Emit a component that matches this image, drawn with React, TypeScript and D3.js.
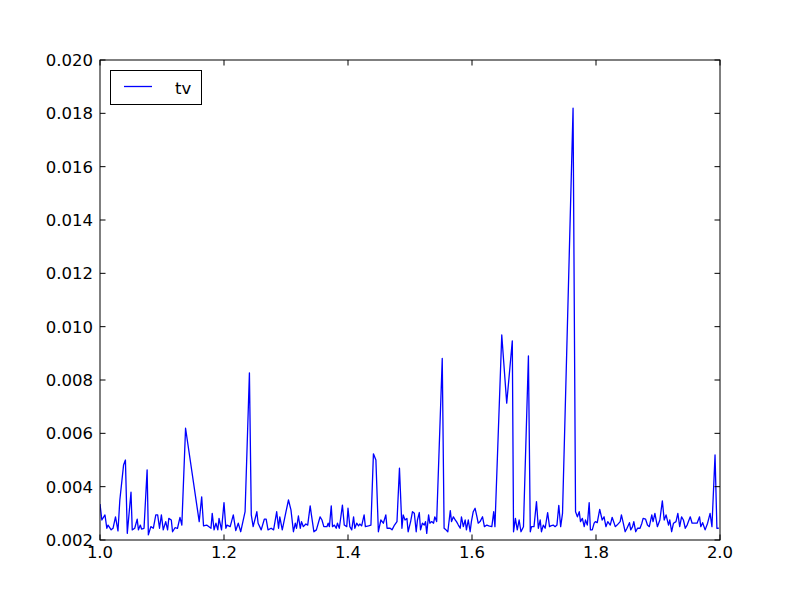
import React from "react";
import * as d3 from "d3";

const xValues: number[] = [
  1.000, 1.003, 1.008, 1.011, 1.013, 1.018, 1.021, 1.025, 1.029, 1.032,
  1.038, 1.041, 1.044, 1.050, 1.052, 1.056, 1.060, 1.062, 1.065, 1.067,
  1.071, 1.076, 1.078, 1.082, 1.086, 1.090, 1.093, 1.096, 1.099, 1.102,
  1.106, 1.109, 1.111, 1.115, 1.117, 1.121, 1.125, 1.129, 1.132, 1.138,
  1.160, 1.164, 1.167, 1.172, 1.179, 1.181, 1.184, 1.187, 1.190, 1.192,
  1.196, 1.200, 1.203, 1.205, 1.210, 1.215, 1.219, 1.223, 1.227, 1.234,
  1.241, 1.244, 1.247, 1.253, 1.255, 1.260, 1.265, 1.268, 1.271, 1.276,
  1.280, 1.285, 1.288, 1.290, 1.294, 1.300, 1.304, 1.308, 1.312, 1.315,
  1.317, 1.320, 1.323, 1.325, 1.328, 1.332, 1.335, 1.339, 1.341, 1.345,
  1.349, 1.355, 1.358, 1.361, 1.366, 1.368, 1.370, 1.373, 1.375, 1.378,
  1.381, 1.383, 1.386, 1.391, 1.394, 1.398, 1.400, 1.403, 1.406, 1.409,
  1.411, 1.414, 1.417, 1.419, 1.422, 1.426, 1.428, 1.433, 1.437, 1.441,
  1.445, 1.449, 1.453, 1.457, 1.461, 1.463, 1.468, 1.471, 1.475, 1.479,
  1.483, 1.487, 1.489, 1.492, 1.495, 1.497, 1.501, 1.504, 1.507, 1.510,
  1.512, 1.515, 1.517, 1.520, 1.523, 1.525, 1.527, 1.530, 1.532, 1.535,
  1.538, 1.540, 1.543, 1.552, 1.555, 1.558, 1.561, 1.565, 1.567, 1.570,
  1.573, 1.575, 1.578, 1.581, 1.583, 1.586, 1.589, 1.591, 1.594, 1.597,
  1.599, 1.602, 1.605, 1.608, 1.610, 1.613, 1.617, 1.620, 1.624, 1.627,
  1.632, 1.635, 1.637, 1.648, 1.656, 1.665, 1.667, 1.670, 1.673, 1.676,
  1.679, 1.683, 1.691, 1.694, 1.696, 1.700, 1.704, 1.707, 1.710, 1.712,
  1.715, 1.718, 1.722, 1.725, 1.727, 1.731, 1.734, 1.737, 1.740, 1.743,
  1.746, 1.763, 1.767, 1.770, 1.773, 1.775, 1.778, 1.781, 1.783, 1.786,
  1.789, 1.791, 1.794, 1.797, 1.799, 1.802, 1.806, 1.810, 1.813, 1.816,
  1.819, 1.823, 1.826, 1.829, 1.831, 1.834, 1.839, 1.841, 1.844, 1.847,
  1.850, 1.854, 1.856, 1.859, 1.861, 1.864, 1.867, 1.871, 1.874, 1.876,
  1.880, 1.883, 1.886, 1.890, 1.892, 1.895, 1.899, 1.903, 1.907, 1.910,
  1.913, 1.917, 1.919, 1.922, 1.925, 1.929, 1.932, 1.935, 1.938, 1.941,
  1.944, 1.947, 1.952, 1.955, 1.960, 1.963, 1.967, 1.969, 1.972, 1.976,
  1.980, 1.984, 1.987, 1.992, 1.995, 1.998,
];

const tvValues: number[] = [
  0.00335, 0.00275, 0.00294, 0.00244, 0.00256, 0.00238, 0.00244, 0.00287, 0.00234, 0.00350,
  0.00481, 0.00500, 0.00225, 0.00379, 0.00238, 0.00244, 0.00278, 0.00238, 0.00256, 0.00241,
  0.00244, 0.00463, 0.00219, 0.00250, 0.00244, 0.00294, 0.00294, 0.00244, 0.00294, 0.00238,
  0.00269, 0.00238, 0.00281, 0.00275, 0.00231, 0.00246, 0.00244, 0.00285, 0.00256, 0.00619,
  0.00269, 0.00362, 0.00253, 0.00256, 0.00244, 0.00300, 0.00238, 0.00263, 0.00238, 0.00281,
  0.00238, 0.00340, 0.00244, 0.00256, 0.00250, 0.00294, 0.00235, 0.00263, 0.00231, 0.00306,
  0.00827, 0.00294, 0.00250, 0.00306, 0.00263, 0.00238, 0.00278, 0.00278, 0.00238, 0.00244,
  0.00238, 0.00306, 0.00244, 0.00287, 0.00238, 0.00306, 0.00350, 0.00313, 0.00231, 0.00263,
  0.00244, 0.00290, 0.00244, 0.00269, 0.00250, 0.00260, 0.00256, 0.00328, 0.00294, 0.00231,
  0.00238, 0.00287, 0.00275, 0.00250, 0.00250, 0.00263, 0.00250, 0.00328, 0.00250, 0.00256,
  0.00244, 0.00263, 0.00244, 0.00331, 0.00256, 0.00250, 0.00319, 0.00250, 0.00238, 0.00287,
  0.00244, 0.00263, 0.00253, 0.00260, 0.00253, 0.00294, 0.00250, 0.00253, 0.00256, 0.00523,
  0.00500, 0.00231, 0.00275, 0.00263, 0.00294, 0.00244, 0.00244, 0.00238, 0.00256, 0.00269,
  0.00469, 0.00244, 0.00294, 0.00275, 0.00281, 0.00231, 0.00269, 0.00306, 0.00300, 0.00231,
  0.00275, 0.00303, 0.00238, 0.00263, 0.00256, 0.00269, 0.00225, 0.00294, 0.00263, 0.00269,
  0.00263, 0.00287, 0.00269, 0.00881, 0.00244, 0.00238, 0.00231, 0.00310, 0.00269, 0.00287,
  0.00275, 0.00269, 0.00256, 0.00244, 0.00287, 0.00250, 0.00275, 0.00238, 0.00275, 0.00231,
  0.00269, 0.00306, 0.00319, 0.00287, 0.00263, 0.00269, 0.00287, 0.00250, 0.00256, 0.00253,
  0.00250, 0.00306, 0.00250, 0.00969, 0.00713, 0.00947, 0.00231, 0.00281, 0.00238, 0.00275,
  0.00231, 0.00250, 0.00890, 0.00231, 0.00250, 0.00250, 0.00344, 0.00244, 0.00275, 0.00231,
  0.00256, 0.00244, 0.00303, 0.00250, 0.00253, 0.00256, 0.00250, 0.00256, 0.00330, 0.00250,
  0.00300, 0.01819, 0.00306, 0.00287, 0.00306, 0.00269, 0.00281, 0.00250, 0.00275, 0.00256,
  0.00340, 0.00238, 0.00238, 0.00263, 0.00269, 0.00265, 0.00315, 0.00275, 0.00287, 0.00250,
  0.00269, 0.00256, 0.00285, 0.00265, 0.00250, 0.00256, 0.00269, 0.00294, 0.00263, 0.00231,
  0.00244, 0.00265, 0.00238, 0.00250, 0.00269, 0.00231, 0.00244, 0.00244, 0.00263, 0.00281,
  0.00278, 0.00256, 0.00250, 0.00294, 0.00269, 0.00300, 0.00250, 0.00275, 0.00347, 0.00275,
  0.00294, 0.00256, 0.00275, 0.00231, 0.00263, 0.00269, 0.00300, 0.00250, 0.00287, 0.00275,
  0.00244, 0.00256, 0.00287, 0.00263, 0.00263, 0.00263, 0.00287, 0.00250, 0.00265, 0.00238,
  0.00263, 0.00300, 0.00250, 0.00519, 0.00244, 0.00244,
];

const xTicks: number[] = [1.0, 1.2, 1.4, 1.6, 1.8, 2.0];
const xTickLabels: string[] = ["1.0", "1.2", "1.4", "1.6", "1.8", "2.0"];
const yTicks: number[] = [0.002, 0.004, 0.006, 0.008, 0.010, 0.012, 0.014, 0.016, 0.018, 0.020];
const yTickLabels: string[] = ["0.002", "0.004", "0.006", "0.008", "0.010", "0.012", "0.014", "0.016", "0.018", "0.020"];
const seriesName = "tv";

export default function App() {
  const W = 800, H = 600;
  const left = 100, right = 720, top = 60, bottom = 540;
  const x = d3.scaleLinear().domain([1.0, 2.0]).range([left, right]);
  const y = d3.scaleLinear().domain([0.002, 0.020]).range([bottom, top]);
  const pts = xValues.map((v, i) => [v, tvValues[i]] as [number, number]);
  const line = d3.line<[number, number]>().x(d => x(d[0])).y(d => y(d[1]));
  const tickLen = 5.5;
  const font = "'DejaVu Sans', sans-serif";
  const fs = 16.5;

  return (
    <svg width={W} height={H} style={{ position: "absolute", left: 0, top: 0, background: "#fff" }}
      fontFamily={font}>
      <rect x={0} y={0} width={W} height={H} fill="#fff" />
      <defs>
        <clipPath id="plotclip">
          <rect x={left} y={top} width={right - left} height={bottom - top} />
        </clipPath>
      </defs>
      <path d={line(pts) || ""} fill="none" stroke="#0000ff" strokeWidth={1.3}
        strokeLinejoin="round" clipPath="url(#plotclip)" />
      {xTicks.map((t, i) => (
        <g key={"xt" + i}>
          <line x1={x(t)} x2={x(t)} y1={bottom} y2={bottom - tickLen} stroke="#000" strokeWidth={1} />
          <line x1={x(t)} x2={x(t)} y1={top} y2={top + tickLen} stroke="#000" strokeWidth={1} />
          <text x={x(t)} y={bottom + 18} textAnchor="middle" fontSize={fs} fill="#000">{xTickLabels[i]}</text>
        </g>
      ))}
      {yTicks.map((t, i) => (
        <g key={"yt" + i}>
          <line x1={left} x2={left + tickLen} y1={y(t)} y2={y(t)} stroke="#000" strokeWidth={1} />
          <line x1={right} x2={right - tickLen} y1={y(t)} y2={y(t)} stroke="#000" strokeWidth={1} />
          <text x={left - 7} y={y(t)} dy="0.36em" textAnchor="end" fontSize={fs} fill="#000">{yTickLabels[i]}</text>
        </g>
      ))}
      <rect x={left} y={top} width={right - left} height={bottom - top} fill="none" stroke="#000" strokeWidth={1} />
      <g>
        <rect x={110.5} y={70.5} width={91} height={34} fill="#fff" stroke="#000" strokeWidth={1} />
        <line x1={124} x2={152} y1={86.5} y2={86.5} stroke="#0000ff" strokeWidth={1.3} />
        <text x={175} y={93.5} fontSize={fs} fill="#000">{seriesName}</text>
      </g>
    </svg>
  );
}
